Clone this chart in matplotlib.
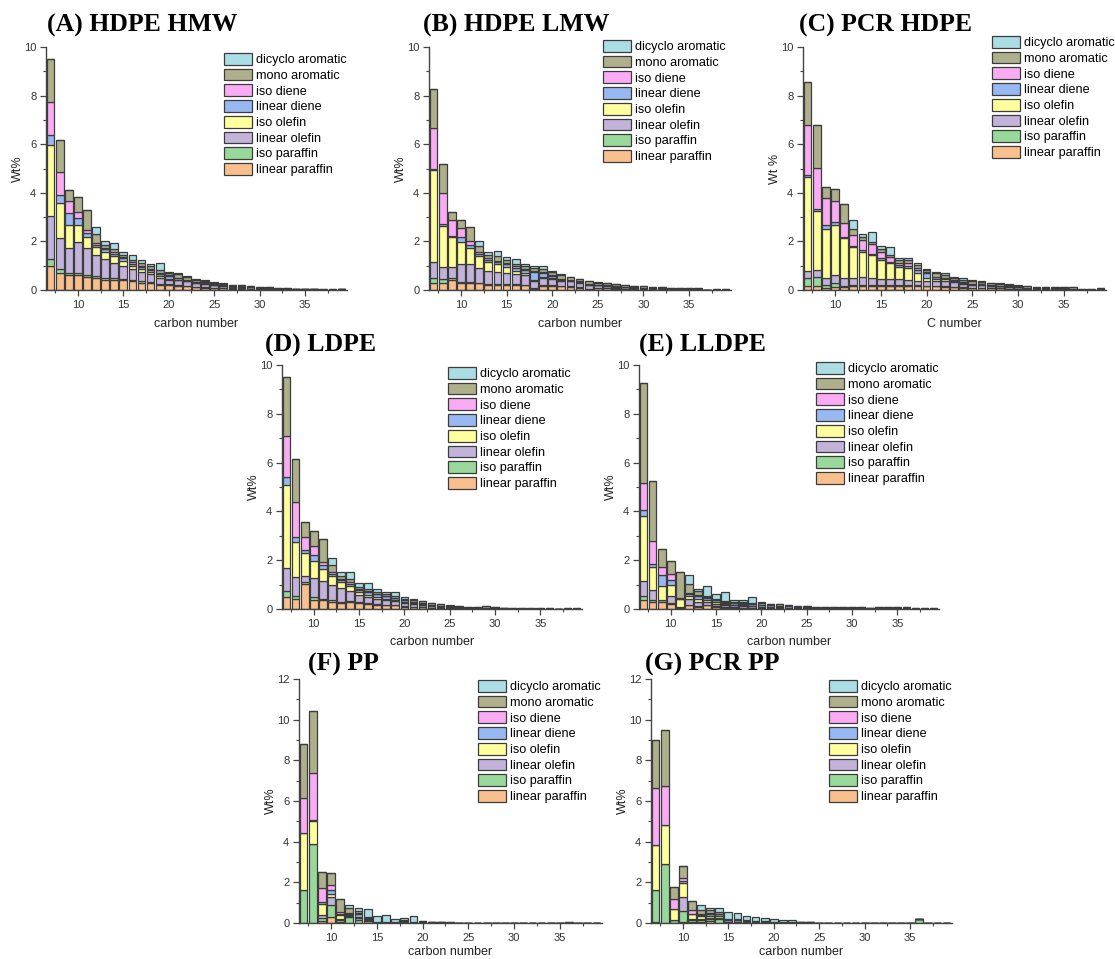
import numpy as np
import matplotlib
matplotlib.use('Agg')
import matplotlib.pyplot as plt

plt.rcParams['font.family'] = ['Liberation Sans', 'DejaVu Sans']

# carbon numbers on the x axis
carbon = list(range(7, 40))

series_names = ['linear paraffin', 'iso paraffin', 'linear olefin', 'iso olefin',
                'linear diene', 'iso diene', 'mono aromatic', 'dicyclo aromatic']
series_colors = ['#F9C08E', '#98D99B', '#C2B3DA', '#FFFF9E',
                 '#97B8F0', '#F9ABF3', '#AEB08C', '#ABDDE5']

# (A) HDPE HMW
lp_A = [1.00,0.71,0.60,0.60,0.55,0.50,0.42,0.42,0.40,0.35,0.30,0.28,0.22,0.20,0.17,0.15,0.12,0.10,0.08,0.07,0.06,0.06,0.05,0.04,0.04,0.03,0.02,0.02,0.02,0.02,0.01,0.01,0.02]
ip_A = [0.27,0.14,0.08,0.08,0.08,0.06,0.06,0.06,0.05,0.05,0.05,0.04,0.04,0.03,0.03,0.02,0.02,0.02,0.01,0.01,0.01,0.01,0.01,0,0,0,0,0,0,0,0,0,0]
lo_A = [1.78,1.27,1.03,1.30,1.10,0.87,0.80,0.65,0.55,0.45,0.40,0.33,0.25,0.20,0.20,0.18,0.14,0.13,0.10,0.08,0.06,0.05,0.05,0.04,0.03,0.02,0.02,0.01,0.01,0.01,0.01,0.01,0.01]
io_A = [2.92,1.44,0.96,0.70,0.45,0.35,0.28,0.25,0.20,0.12,0.10,0.08,0.06,0.04,0.03,0.02,0.02,0.02,0.01,0.01,0.01,0.01,0,0,0,0,0,0,0,0,0,0,0]
ld_A = [0.41,0.37,0.51,0.30,0.15,0.08,0.12,0.12,0.10,0.12,0.10,0.10,0.10,0.10,0.05,0.04,0.03,0.03,0.02,0.02,0.02,0.02,0.01,0.01,0.01,0.01,0.01,0.01,0.01,0,0,0,0]
id_A = [1.37,0.93,0.48,0.25,0.12,0.06,0.05,0.05,0.04,0.05,0.04,0.03,0.03,0.03,0.02,0.02,0.01,0.01,0.01,0.01,0,0,0,0,0,0,0,0,0,0,0,0,0]
ma_A = [1.77,1.33,0.44,0.58,0.85,0.38,0.12,0.15,0.10,0.10,0.13,0.12,0.12,0.10,0.15,0.12,0.08,0.07,0.07,0.05,0.05,0.05,0.05,0.04,0.03,0.03,0.02,0.02,0.02,0.02,0.02,0.02,0.02]
dc_A = [0,0,0,0,0,0.30,0.15,0.25,0.13,0.20,0.10,0.08,0.28,0.06,0.06,0.04,0.02,0.02,0.02,0.02,0.01,0.01,0.01,0.01,0,0,0,0,0,0,0,0,0]

# (B) HDPE LMW
lp_B = [0.27,0.30,0.40,0.28,0.28,0.27,0.22,0.22,0.22,0.22,0.20,0.05,0.18,0.18,0.15,0.13,0.10,0.05,0.08,0.07,0.06,0.05,0.05,0.04,0.03,0.03,0.02,0.02,0.02,0.02,0,0.01,0.01]
ip_B = [0.21,0.14,0.10,0.05,0.05,0.03,0.03,0.03,0.03,0.03,0.02,0.05,0.02,0.02,0.02,0.02,0.01,0.01,0.01,0.01,0.01,0.01,0,0,0,0,0,0,0,0,0,0,0]
lo_B = [0.68,0.52,0.46,0.74,0.74,0.60,0.55,0.50,0.45,0.40,0.40,0.25,0.30,0.25,0.20,0.20,0.18,0.15,0.10,0.09,0.07,0.06,0.05,0.05,0.04,0.03,0.03,0.02,0.02,0.02,0,0.01,0.01]
io_B = [3.77,1.67,1.23,0.92,0.64,0.50,0.35,0.30,0.25,0.15,0.10,0.05,0.05,0.04,0.03,0.02,0.02,0.01,0.01,0.01,0,0,0,0,0,0,0,0,0,0,0,0,0]
ld_B = [0.07,0.07,0.05,0.20,0.14,0.08,0.10,0.10,0.10,0.12,0.10,0.35,0.15,0.10,0.05,0.04,0.04,0.03,0.02,0.02,0.02,0.02,0.01,0.01,0.01,0.01,0.01,0.01,0.01,0.01,0,0,0]
id_B = [1.67,1.30,0.64,0.37,0.15,0.07,0.05,0.05,0.05,0.05,0.03,0.03,0.03,0.02,0.02,0.01,0.01,0,0,0,0,0,0,0,0,0,0,0,0,0,0,0,0]
ma_B = [1.62,1.20,0.35,0.31,0.60,0.25,0.15,0.20,0.12,0.10,0.12,0.12,0.14,0.12,0.15,0.10,0.08,0.10,0.08,0.08,0.07,0.07,0.06,0.05,0.04,0.04,0.04,0.04,0.04,0.04,0,0.01,0.01]
dc_B = [0,0,0,0,0,0.20,0.12,0.22,0.13,0.20,0.08,0.10,0.10,0.07,0.03,0.03,0.03,0.02,0.02,0.02,0.01,0.01,0.01,0,0,0,0,0,0,0,0,0,0]

# (C) PCR HDPE
lp_C = [0.15,0.18,0.10,0.12,0.12,0.15,0.16,0.15,0.16,0.16,0.16,0.16,0.16,0.15,0.15,0.14,0.12,0.10,0.10,0.09,0.08,0.07,0.06,0.05,0.04,0.03,0.03,0.03,0.03,0.02,0.01,0.01,0.02]
ip_C = [0.33,0.37,0.10,0.15,0.06,0.05,0.06,0.05,0.04,0.04,0.04,0.04,0.03,0.03,0.02,0.02,0.02,0.01,0,0,0,0,0,0,0,0,0,0,0,0,0,0,0]
lo_C = [0.31,0.27,0.28,0.35,0.32,0.30,0.30,0.30,0.25,0.25,0.25,0.22,0.20,0.18,0.20,0.20,0.18,0.15,0.12,0.10,0.09,0.08,0.07,0.06,0.05,0.04,0.04,0.03,0.03,0.03,0.01,0.01,0.02]
io_C = [3.87,2.44,2.05,2.05,1.66,1.25,1.06,0.95,0.80,0.65,0.50,0.48,0.30,0.15,0.10,0.08,0.04,0.03,0.02,0.02,0.01,0.01,0.01,0,0,0,0,0,0,0,0,0,0]
ld_C = [0.06,0.09,0.14,0.13,0.04,0.07,0.05,0.05,0.05,0.07,0.08,0.10,0.15,0.20,0.05,0.04,0.03,0.03,0.02,0.02,0.02,0.02,0.01,0.01,0.01,0.01,0.01,0.01,0.01,0.01,0,0,0]
id_C = [2.06,1.69,1.13,0.86,0.54,0.43,0.42,0.38,0.25,0.18,0.10,0.10,0.08,0.03,0.02,0.02,0.01,0.01,0,0,0,0,0,0,0,0,0,0,0,0,0,0,0]
ma_C = [1.77,1.74,0.42,0.49,0.81,0.25,0.13,0.10,0.13,0.10,0.10,0.12,0.10,0.07,0.15,0.12,0.10,0.10,0.10,0.09,0.08,0.08,0.07,0.06,0.05,0.06,0.06,0.06,0.06,0.06,0.02,0.02,0.03]
dc_C = [0,0,0,0,0,0.40,0.12,0.42,0.15,0.33,0.10,0.10,0.10,0.07,0.06,0.06,0.05,0.05,0.04,0.03,0.02,0.02,0.01,0.01,0,0,0,0,0,0,0,0,0]

# (D) LDPE
lp_D = [0.48,0.41,1.04,0.38,0.35,0.30,0.25,0.28,0.25,0.20,0.18,0.15,0.15,0.10,0.08,0.07,0.05,0.04,0.03,0.03,0.02,0.02,0.02,0.01,0.01,0.01,0.01,0.01,0.01,0.01,0,0.01,0.01]
ip_D = [0.24,0.14,0.08,0.11,0.08,0.05,0.05,0.04,0.03,0.03,0.02,0.02,0.02,0.02,0.01,0.01,0.01,0,0,0,0,0,0,0,0,0,0,0,0,0,0,0,0]
lo_D = [0.96,0.76,0.24,0.78,0.70,0.65,0.55,0.42,0.30,0.25,0.22,0.20,0.15,0.12,0.10,0.08,0.07,0.06,0.04,0.04,0.03,0.03,0.03,0.02,0.01,0.01,0.01,0.01,0.01,0.01,0.01,0.01,0.01]
io_D = [3.41,1.42,0.93,0.69,0.51,0.35,0.25,0.20,0.12,0.10,0.08,0.06,0.05,0.03,0.02,0.02,0.01,0.01,0,0,0,0,0,0,0,0,0,0,0,0,0,0,0]
ld_D = [0.31,0.24,0.14,0.26,0.16,0.10,0.10,0.10,0.08,0.10,0.10,0.10,0.08,0.08,0.05,0.04,0.03,0.03,0.02,0.02,0.01,0.01,0.01,0.01,0.01,0,0,0,0,0,0,0,0]
id_D = [1.67,1.40,0.54,0.37,0.12,0.05,0.05,0.05,0.04,0.04,0.03,0.02,0.02,0.01,0.01,0.01,0,0,0,0,0,0,0,0,0,0,0,0,0,0,0,0,0]
ma_D = [2.45,1.76,0.58,0.61,0.96,0.30,0.12,0.12,0.10,0.08,0.07,0.08,0.08,0.06,0.10,0.08,0.07,0.06,0.05,0.04,0.04,0.04,0.05,0.04,0.02,0.02,0.02,0.02,0.02,0.02,0.01,0.01,0.02]
dc_D = [0,0,0,0,0,0.30,0.15,0.30,0.15,0.27,0.10,0.07,0.15,0.06,0.03,0.02,0.02,0.01,0.01,0,0,0,0,0,0,0,0,0,0,0,0,0,0]

# (E) LLDPE
lp_E = [0.38,0.30,0.27,0.20,0.03,0.15,0.10,0.15,0.10,0.06,0.06,0.05,0.05,0.04,0.03,0.03,0.03,0.02,0.02,0.01,0.01,0.01,0.01,0.01,0.01,0.01,0.01,0.01,0.01,0.01,0,0,0]
ip_E = [0.17,0.05,0.08,0.06,0.02,0.03,0.02,0.02,0.02,0.02,0.01,0.01,0.01,0.01,0.01,0.01,0,0,0,0,0,0,0,0,0,0,0,0,0,0,0,0,0]
lo_E = [0.58,0.41,0.02,0.29,0.05,0.25,0.18,0.12,0.10,0.10,0.08,0.07,0.05,0.04,0.04,0.03,0.03,0.02,0.02,0.01,0.01,0.01,0.01,0.01,0.01,0.01,0.01,0.01,0.01,0.01,0.01,0.01,0.01]
io_E = [2.69,0.95,0.58,0.42,0.30,0.12,0.12,0.08,0.06,0.04,0.03,0.03,0.02,0.01,0.01,0.01,0,0,0,0,0,0,0,0,0,0,0,0,0,0,0,0,0]
ld_E = [0.22,0.13,0.45,0.23,0.03,0.07,0.10,0.10,0.07,0.04,0.06,0.06,0.07,0.08,0.06,0.06,0.05,0.05,0.04,0.03,0.02,0.02,0.02,0.02,0.02,0.02,0.02,0.02,0.02,0.02,0.01,0.01,0.01]
id_E = [1.12,0.93,0.34,0.22,0.02,0.04,0.05,0.03,0.02,0.02,0.01,0.01,0.01,0,0,0,0,0,0,0,0,0,0,0,0,0,0,0,0,0,0,0,0]
ma_E = [4.09,2.48,0.71,0.53,1.05,0.36,0.15,0.05,0.05,0.03,0.05,0.04,0.05,0.05,0.05,0.05,0.05,0.04,0.04,0.04,0.03,0.03,0.03,0.03,0.03,0.02,0.03,0.03,0.03,0.03,0.01,0.01,0.01]
dc_E = [0,0,0,0,0,0.36,0.10,0.40,0.20,0.39,0.08,0.10,0.22,0.04,0.02,0.02,0.01,0.01,0.01,0,0,0,0,0,0,0,0,0,0,0,0,0,0]

# (F) PP
lp_F = [0,0,0.10,0.28,0.05,0.02,0.02,0.02,0.02,0.01,0.01,0,0,0.01,0.01,0.01,0,0,0,0,0,0,0,0,0,0,0,0,0,0,0,0,0]
ip_F = [1.61,3.88,0.15,0.62,0.10,0.28,0.12,0.10,0.02,0.02,0.02,0.05,0.02,0.02,0.01,0.01,0.01,0.01,0.01,0.01,0.01,0.01,0.01,0.01,0.01,0.01,0.01,0.01,0.01,0.02,0,0,0.01]
lo_F = [0,0,0.15,0.40,0.05,0.05,0.10,0.05,0,0,0,0,0,0,0,0,0,0,0,0,0,0,0,0,0,0,0,0,0,0,0,0,0]
io_F = [2.80,1.12,0.55,0.12,0.20,0.05,0.05,0.02,0,0,0,0,0,0,0,0,0,0,0,0,0,0,0,0,0,0,0,0,0,0,0,0,0]
ld_F = [0,0.05,0.10,0.20,0.05,0.05,0.15,0.05,0,0,0,0.05,0.02,0.04,0.02,0.02,0.01,0,0,0,0,0,0,0,0,0,0,0,0,0,0,0,0]
id_F = [1.72,2.35,0.65,0.23,0.10,0.03,0.03,0.02,0,0,0,0,0,0,0,0,0,0,0,0,0,0,0,0,0,0,0,0,0,0,0,0,0]
ma_F = [2.67,3.03,0.80,0.60,0.65,0.28,0.10,0.02,0,0,0.03,0.05,0,0.02,0.02,0.02,0.01,0.01,0.01,0.01,0.01,0.01,0.01,0.01,0.01,0.01,0.01,0.01,0.01,0.02,0,0,0.01]
dc_F = [0,0,0,0,0,0.12,0.15,0.40,0.28,0.37,0.14,0.10,0.28,0,0,0,0,0,0,0,0,0,0,0,0,0,0,0,0,0,0,0,0]

# (G) PCR PP
lp_G = [0.05,0.02,0.02,0.05,0.03,0.05,0.12,0.02,0.02,0.01,0.01,0,0,0,0,0,0,0,0,0,0,0,0,0,0,0,0,0,0,0,0,0,0]
ip_G = [1.59,2.88,0.13,0.55,0.12,0.10,0.08,0.20,0.05,0.02,0.02,0.02,0.02,0.01,0.01,0.01,0,0,0,0,0,0,0,0,0,0,0,0,0,0.18,0,0,0]
lo_G = [0,0,0.02,0.68,0.05,0.05,0.05,0.05,0,0,0,0,0,0,0,0,0,0,0,0,0,0,0,0,0,0,0,0,0,0,0,0,0]
io_G = [2.19,1.92,0.50,0.70,0.22,0.12,0.10,0.05,0,0,0,0,0,0,0,0,0,0,0,0,0,0,0,0,0,0,0,0,0,0,0,0,0]
ld_G = [0,0.02,0.02,0.08,0.03,0.05,0.10,0.10,0.10,0.10,0.08,0.05,0.03,0.02,0.02,0.02,0.03,0.03,0.01,0.01,0.01,0.01,0.01,0,0,0,0,0,0,0,0,0,0.01]
id_G = [2.80,1.92,0.51,0.16,0.20,0.05,0.03,0.02,0,0,0,0,0,0,0,0,0,0,0,0,0,0,0,0,0,0,0,0,0,0,0,0,0]
ma_G = [2.37,2.74,0.55,0.58,0.45,0.20,0.15,0.08,0.05,0.05,0.03,0.03,0.03,0.02,0.02,0.02,0.02,0.02,0.01,0.01,0.01,0.01,0.01,0,0,0,0,0,0,0.02,0,0,0.01]
dc_G = [0,0,0,0,0,0.26,0.12,0.23,0.33,0.30,0.20,0.18,0.19,0.16,0.10,0.10,0,0,0,0,0,0,0,0,0,0,0,0,0,0,0,0,0]

W, H = 1115, 959

# panel: title, stacks, ylabel, xlabel, ymax,
#        axes box in pixels (left, top, right, bottom), title pos, legend pos, xlabel pad
panele = [
    ('(A) HDPE HMW', [lp_A, ip_A, lo_A, io_A, ld_A, id_A, ma_A, dc_A], 'Wt%', 'carbon number', 10,
     (46, 47, 347, 290), (47, 32), (224, 53), 6),
    ('(B) HDPE LMW', [lp_B, ip_B, lo_B, io_B, ld_B, id_B, ma_B, dc_B], 'Wt%', 'carbon number', 10,
     (429, 47, 731, 290), (423, 32), (603, 40), 6),
    ('(C) PCR HDPE', [lp_C, ip_C, lo_C, io_C, ld_C, id_C, ma_C, dc_C], 'Wt %', 'C number', 10,
     (803, 47, 1106, 290), (799, 32), (992, 36), 6),
    ('(D) LDPE', [lp_D, ip_D, lo_D, io_D, ld_D, id_D, ma_D, dc_D], 'Wt%', 'carbon number', 10,
     (282, 365, 582, 609), (265, 352), (448, 367), 5),
    ('(E) LLDPE', [lp_E, ip_E, lo_E, io_E, ld_E, id_E, ma_E, dc_E], 'Wt%', 'carbon number', 10,
     (639, 365, 939, 609), (639, 352), (816, 362), 5),
    ('(F) PP', [lp_F, ip_F, lo_F, io_F, ld_F, id_F, ma_F, dc_F], 'Wt%', 'carbon number', 12,
     (299, 679, 602, 923), (308, 671), (478, 680), 2.5),
    ('(G) PCR PP', [lp_G, ip_G, lo_G, io_G, ld_G, id_G, ma_G, dc_G], 'Wt%', 'carbon number', 12,
     (651, 679, 952, 923), (645, 671), (829, 680), 2.5),
]

fig = plt.figure(figsize=(W / 100, H / 100), dpi=100)

for tytul, stos, ylab, xlab, ymax, box, tpos, lpos, xpad in panele:
    l, t, r, b = box
    ax = fig.add_axes([l / W, 1 - b / H, (r - l) / W, (b - t) / H])
    dol = np.zeros(len(carbon))
    uchwyty = []
    for vals, name, col in zip(stos, series_names, series_colors):
        bars = ax.bar(carbon, vals, width=0.85, bottom=dol, color=col,
                      edgecolor='#3c3c3c', linewidth=0.9, label=name)
        dol = dol + np.array(vals)
        uchwyty.append(bars)

    ax.set_xlim(6.5, 39.6)
    ax.set_ylim(0, ymax)
    ax.set_xticks([10, 15, 20, 25, 30, 35])
    ax.set_xticks(np.arange(7.5, 40, 2.5), minor=True)
    ax.set_yticks(np.arange(0, ymax + 1, 2))
    ax.set_yticks(np.arange(1, ymax, 2), minor=True)
    for s in ['top', 'right']:
        ax.spines[s].set_visible(False)
    for s in ['left', 'bottom']:
        ax.spines[s].set_color('#444444')
        ax.spines[s].set_linewidth(1.0)
    ax.tick_params(which='major', direction='out', length=4, width=0.9,
                   colors='#444444', labelsize=8, labelcolor='#333333', pad=3)
    ax.tick_params(which='minor', direction='out', length=2.5, width=0.8, colors='#444444')
    ax.set_xlabel(xlab, fontsize=9, color='#222222', labelpad=xpad)
    ax.set_ylabel(ylab, fontsize=9, color='#222222', labelpad=0)

    fig.text(tpos[0] / W, 1 - tpos[1] / H, tytul, family='Liberation Serif',
             weight='bold', fontsize=18.5, ha='left', va='baseline')

    ax.legend(uchwyty[::-1], series_names[::-1], loc='upper left',
              bbox_to_anchor=(lpos[0] / W, 1 - lpos[1] / H), bbox_transform=fig.transFigure,
              frameon=False, fontsize=9.1, handlelength=2.2, handleheight=1.05,
              handletextpad=0.35, labelspacing=0.2, borderpad=0, borderaxespad=0)

fig.savefig('out.png', dpi=100)
